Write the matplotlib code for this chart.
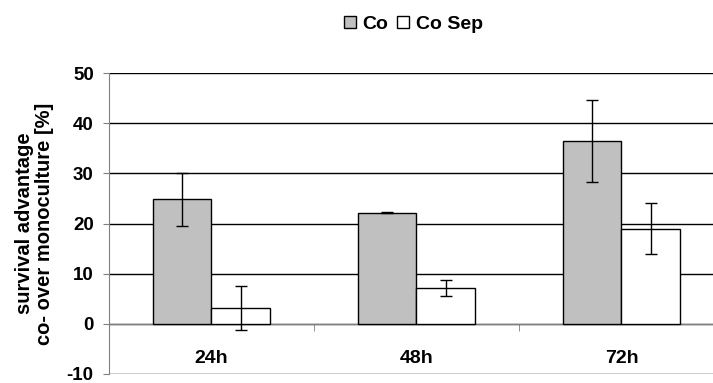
import matplotlib.pyplot as plt
import numpy as np
from matplotlib.patches import Patch

# data
categories = ['24h', '48h', '72h']
co_vals = np.array([24.8, 22.1, 36.4])
co_err = np.array([5.2, 0.1, 8.2])
sep_vals = np.array([3.2, 7.1, 19.0])
sep_err = np.array([4.4, 1.6, 5.0])
y_ticks = [-10, 0, 10, 20, 30, 40, 50]

plt.rcParams.update({
    'font.family': ['Liberation Sans', 'DejaVu Sans'],
    'font.weight': 'bold',
    'font.size': 10,
})

fig = plt.figure(figsize=(7.13, 3.83), dpi=100)
ax = fig.add_axes([109 / 713, 9 / 383, 615 / 713, 301 / 383])

x = np.arange(len(categories))
w = 0.285
eb = dict(ecolor='black', elinewidth=1, capsize=4, capthick=1)
ax.bar(x - w / 2, co_vals, w, color='#c0c0c0', edgecolor='black', linewidth=1,
       yerr=co_err, error_kw=eb, zorder=3)
ax.bar(x + w / 2, sep_vals, w, color='white', edgecolor='black', linewidth=1,
       yerr=sep_err, error_kw=eb, zorder=3)

ax.set_xlim(-0.5, 2.5)
ax.set_ylim(-10, 50)
ax.set_yticks(y_ticks)
ax.set_yticklabels([str(t) for t in y_ticks], fontsize=13.5, fontweight='bold')
ax.yaxis.grid(True, color='black', linewidth=1)
ax.set_axisbelow(True)

# x axis crossing at zero
for s in ['top', 'right']:
    ax.spines[s].set_visible(False)
ax.spines['bottom'].set_position(('data', 0))
ax.spines['bottom'].set_color('#808080')
ax.spines['left'].set_color('#808080')
ax.set_xticks(x)
ax.set_xticklabels(categories, fontsize=14, fontweight='bold')
ax.tick_params(axis='x', which='major', length=0, pad=19)
ax.set_xticks([0.5, 1.5], minor=True)
ax.tick_params(axis='x', which='minor', length=5, direction='out', color='#808080')
ax.tick_params(axis='y', length=4.5, direction='out', color='#808080', pad=6.5)

ax.set_ylabel('survival advantage\nco- over monoculture [%]', fontsize=14.5,
              fontweight='bold', labelpad=9, linespacing=1.05)

handles = [Patch(facecolor='#c0c0c0', edgecolor='black', label='Co'),
           Patch(facecolor='white', edgecolor='black', label='Co Sep')]
fig.legend(handles=handles, loc='center', bbox_to_anchor=(0.58, 0.937), ncol=2,
           frameon=False, handlelength=0.6, handleheight=0.6, handletextpad=0.35,
           columnspacing=0.45, prop={'weight': 'bold', 'size': 14})

fig.savefig('out.png', dpi=100)
